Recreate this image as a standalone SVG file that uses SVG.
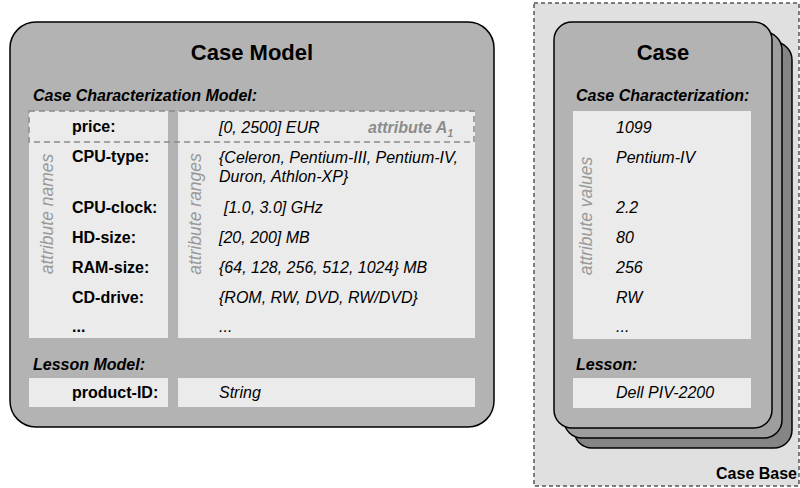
<svg xmlns="http://www.w3.org/2000/svg" width="800" height="488" viewBox="0 0 800 488">
<style>
text{font-family:"Liberation Sans",Arial,sans-serif;fill:#000}
.title{font-size:22px;font-weight:bold;text-anchor:middle}
.hdr{font-size:16px;font-weight:bold;font-style:italic}
.lbl{font-size:16px;font-weight:bold}
.val{font-size:16px;font-style:italic}
.vert{font-size:17.5px;font-style:italic;fill:#999;text-anchor:middle}
.panel{fill:#ebebeb}
.box{stroke:#000;stroke-width:1.5}
</style>
<rect width="800" height="488" fill="#fff"/>
<g id="case-base">
<rect x="534" y="3" width="265" height="483" fill="#e0e0e0" stroke="#555" stroke-width="1.5" stroke-dasharray="4 3"/>
<text class="lbl" x="797" y="479" text-anchor="end">Case Base</text>
</g>
<g id="case-model">
<rect class="box" x="10" y="22" width="484" height="405" rx="26" fill="#b3b3b3"/>
<text class="title" x="252" y="60">Case Model</text>
<text class="hdr" x="33" y="101">Case Characterization Model:</text>
<rect class="panel" x="29" y="111" width="139" height="227"/>
<rect class="panel" x="178" y="111" width="297" height="227"/>
<rect x="29" y="111" width="445" height="31" fill="none" stroke="#8c8c8c" stroke-width="1.5" stroke-dasharray="6 4"/>
<text class="vert" transform="translate(53,214) rotate(-90)">attribute names</text>
<text class="vert" transform="translate(201,214) rotate(-90)">attribute ranges</text>
<text class="lbl" x="72" y="132">price:</text>
<text class="lbl" x="72" y="162">CPU-type:</text>
<text class="lbl" x="72" y="213">CPU-clock:</text>
<text class="lbl" x="72" y="243">HD-size:</text>
<text class="lbl" x="72" y="273">RAM-size:</text>
<text class="lbl" x="72" y="303">CD-drive:</text>
<text class="lbl" x="72" y="332">...</text>
<text class="val" x="219" y="133">[0, 2500] EUR</text>
<text x="368" y="133" style="font-size:16px;font-weight:bold;font-style:italic;fill:#8c8c8c">attribute A<tspan dy="4" font-size="10">1</tspan></text>
<text class="val" x="219" y="163">{Celeron, Pentium-III, Pentium-IV,</text>
<text class="val" x="219" y="182">Duron, Athlon-XP}</text>
<text class="val" x="224" y="213">[1.0, 3.0] GHz</text>
<text class="val" x="219" y="243">[20, 200] MB</text>
<text class="val" x="219" y="273">{64, 128, 256, 512, 1024} MB</text>
<text class="val" x="219" y="303">{ROM, RW, DVD, RW/DVD}</text>
<text class="val" x="219" y="332">...</text>
<text class="hdr" x="33" y="370">Lesson Model:</text>
<rect class="panel" x="29" y="378" width="139" height="29"/>
<rect class="panel" x="178" y="378" width="297" height="29"/>
<text class="lbl" x="72" y="398">product-ID:</text>
<text class="val" x="219" y="398">String</text>
</g>
<g id="case-card-3">
<rect class="box" x="574" y="42" width="218" height="406" rx="18" fill="#858585"/>
</g>
<g id="case-card-2">
<rect class="box" x="564" y="32" width="218" height="406" rx="18" fill="#9e9e9e"/>
</g>
<g id="case-card-1">
<rect class="box" x="554" y="22" width="218" height="406" rx="18" fill="#b3b3b3"/>
<text class="title" x="663" y="60">Case</text>
<text class="hdr" x="576" y="101">Case Characterization:</text>
<rect class="panel" x="573" y="111" width="178" height="228"/>
<text class="vert" transform="translate(592,216) rotate(-90)">attribute values</text>
<text class="val" x="616" y="133">1099</text>
<text class="val" x="616" y="163">Pentium-IV</text>
<text class="val" x="616" y="213">2.2</text>
<text class="val" x="616" y="243">80</text>
<text class="val" x="616" y="273">256</text>
<text class="val" x="616" y="303">RW</text>
<text class="val" x="616" y="332">...</text>
<text class="hdr" x="576" y="370">Lesson:</text>
<rect class="panel" x="573" y="378" width="178" height="30"/>
<text class="val" x="616" y="398">Dell PIV-2200</text>
</g>
<g id="connectors"/>
</svg>
